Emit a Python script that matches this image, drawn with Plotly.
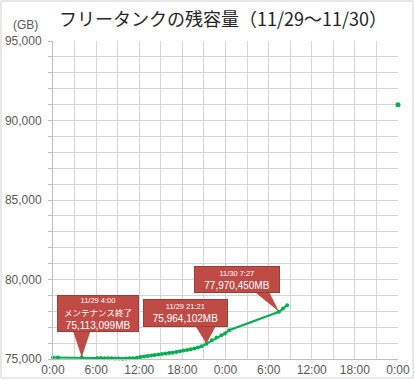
import plotly.graph_objects as go
from datetime import datetime

# ---- data ----
TIMES = [
    "11/29 0:00", "11/29 0:40", "11/29 4:00", "11/29 6:10", "11/29 6:40",
    "11/29 7:10", "11/29 7:40", "11/29 8:10", "11/29 8:40", "11/29 9:10",
    "11/29 9:40", "11/29 10:10", "11/29 10:40", "11/29 11:10", "11/29 11:40",
    "11/29 12:10", "11/29 12:40", "11/29 13:10", "11/29 13:40", "11/29 14:10",
    "11/29 14:40", "11/29 15:10", "11/29 15:40", "11/29 16:10", "11/29 16:40",
    "11/29 17:10", "11/29 17:40", "11/29 18:10", "11/29 18:40", "11/29 19:10",
    "11/29 19:40", "11/29 20:10", "11/29 20:40", "11/29 21:21", "11/29 22:05",
    "11/29 22:45", "11/29 23:25", "11/29 23:55", "11/30 0:30", "11/30 7:27",
    "11/30 8:00", "11/30 8:35",
]
CAPACITY_GB = [
    75100, 75100, 75113, 75070, 75060,
    75050, 75050, 75040, 75030, 75030,
    75020, 75030, 75040, 75050, 75080,
    75120, 75160, 75190, 75220, 75250,
    75280, 75310, 75340, 75370, 75400,
    75440, 75480, 75530, 75570, 75610,
    75660, 75720, 75800, 75964, 76180,
    76350, 76490, 76600, 76810, 77970,
    78170, 78380,
]
EXTRA_TIMES = ["12/1 0:00"]
EXTRA_GB = [90990]

TICK_HOURS = [0, 6, 12, 18, 24, 30, 36, 42, 48]
TICK_LABELS = ["0:00", "6:00", "12:00", "18:00", "0:00", "6:00", "12:00", "18:00", "0:00"]
Y_TICKS = [75000, 80000, 85000, 90000, 95000]

CALLOUT_TIMES = ["11/29 4:00", "11/29 21:21", "11/30 7:27"]
CALLOUT_HEADS = ["11/29 4:00", "11/29 21:21", "11/30 7:27"]
CALLOUT_NOTES = ["メンテナンス終了", "", ""]
CALLOUT_VALUES = ["75,113,099MB", "75,964,102MB", "77,970,450MB"]

TITLE = "フリータンクの残容量（11/29～11/30）"

# ---- helpers ----
BASE = datetime(2000, 11, 29)


def to_hours(s):
    md, hm = s.split(" ")
    m, d = md.split("/")
    h, mi = hm.split(":")
    dt = datetime(2000, int(m), int(d), int(h), int(mi))
    return (dt - BASE).total_seconds() / 3600.0


X = [to_hours(t) for t in TIMES]
X_EXTRA = [to_hours(t) for t in EXTRA_TIMES]

# ---- geometry ----
W, H = 415, 380
ML, MR, MT, MB = 53, 17, 41, 21
PW, PH = W - ML - MR, H - MT - MB
XR = [0, 48]
YR = [75000, 95000]
PX_PER_H = PW / (XR[1] - XR[0])
PX_PER_U = PH / (YR[1] - YR[0])

GREEN = "#00b050"
GRID = "#d4d4d4"
RED = "#bf4b47"
RED_DARK = "#9e3a37"
FONT = "Liberation Sans, Arial, Noto Sans CJK JP, sans-serif"

fig = go.Figure()
fig.add_trace(go.Scatter(
    x=X, y=CAPACITY_GB, mode="lines+markers",
    line=dict(color=GREEN, width=2),
    marker=dict(color=GREEN, size=4),
    hoverinfo="skip", showlegend=False, cliponaxis=False,
))
fig.add_trace(go.Scatter(
    x=X_EXTRA, y=EXTRA_GB, mode="markers",
    marker=dict(color=GREEN, size=5),
    hoverinfo="skip", showlegend=False, cliponaxis=False,
))

CALLOUT_STYLE = [
    dict(ax=16, ay=-44, w=80, h=35, bl=-10, br=10, bdy=-28),
    dict(ax=-21, ay=-31, w=83, h=26, bl=-13, br=11, bdy=-19),
    dict(ax=-42, ay=-32, w=84, h=25, bl=-27, br=-11, bdy=-20),
]

shapes = []
annotations = []
for t, head, note, val, st in zip(CALLOUT_TIMES, CALLOUT_HEADS, CALLOUT_NOTES,
                                  CALLOUT_VALUES, CALLOUT_STYLE):
    i = TIMES.index(t)
    xh, v = X[i], CAPACITY_GB[i]
    x0, y0 = xh, v
    x1 = xh + st["bl"] / PX_PER_H
    x2 = xh + st["br"] / PX_PER_H
    yb = v - (st["bdy"] - 2) / PX_PER_U
    shapes.append(dict(
        type="path", xref="x", yref="y",
        path=f"M {x0},{y0} L {x1},{yb} L {x2},{yb} Z",
        fillcolor=RED, line=dict(width=0), layer="above",
    ))
    parts = ["<span style='font-size:7.5px'>" + head + "</span>"]
    if note:
        parts.append("<span style='font-size:8.5px'>" + note + "</span>")
    parts.append(val)
    annotations.append(dict(
        x=xh, y=v, xref="x", yref="y", text="<br>".join(parts),
        showarrow=True, arrowcolor="rgba(0,0,0,0)", arrowwidth=0.1,
        ax=st["ax"], ay=st["ay"],
        width=st["w"], height=st["h"],
        bgcolor=RED, bordercolor=RED_DARK, borderwidth=1, borderpad=0,
        font=dict(family=FONT, size=10, color="white"),
        align="center", valign="middle",
    ))

annotations.append(dict(
    x=(26 - ML) / PW, y=(H - MB - 25) / PH, xref="paper", yref="paper",
    text="(GB)", showarrow=False, xanchor="center", yanchor="middle",
    font=dict(family=FONT, size=12, color="#595959"),
))

shapes.append(dict(
    type="rect", xref="paper", yref="paper",
    x0=(1 - ML) / PW, x1=(W - 2 - ML) / PW,
    y0=(H - MB - (H - 2)) / PH, y1=(H - MB - 1) / PH,
    line=dict(color="#d0d0d0", width=1), fillcolor="rgba(0,0,0,0)", layer="below",
))

fig.update_layout(
    width=W, height=H,
    margin=dict(l=ML, r=MR, t=MT, b=MB, pad=0, autoexpand=False),
    paper_bgcolor="white", plot_bgcolor="white",
    title=dict(
        text=TITLE, x=223 / W, y=1 - 20 / H, xanchor="center", yanchor="middle",
        font=dict(family="Noto Sans CJK JP, sans-serif", size=18, color="#262626"),
    ),
    xaxis=dict(
        range=XR, tickvals=TICK_HOURS, ticktext=TICK_LABELS,
        showgrid=True, gridcolor=GRID, gridwidth=1,
        minor=dict(dtick=3, tick0=0, showgrid=True, gridcolor=GRID, gridwidth=1),
        zeroline=False, showline=True, linecolor="#bfbfbf",
        tickfont=dict(family=FONT, size=12, color="#595959"),
        ticks="", fixedrange=True, automargin=False,
    ),
    yaxis=dict(
        range=YR, tickvals=Y_TICKS, tickformat=",d",
        showgrid=True, gridcolor=GRID, gridwidth=1,
        minor=dict(dtick=1000, tick0=75000, showgrid=True, gridcolor=GRID, gridwidth=1,
                   ticks="outside", ticklen=4, tickcolor="#bfbfbf"),
        ticks="outside", ticklen=4, tickcolor="#bfbfbf",
        ticklabelstandoff=4,
        zeroline=False, showline=True, linecolor="#bfbfbf",
        tickfont=dict(family=FONT, size=12, color="#595959"),
        fixedrange=True, automargin=False,
    ),
    shapes=shapes, annotations=annotations,
)

fig.write_html(
    "out.html",
    config={"displayModeBar": False},
    post_script="document.body.style.margin='0';document.body.style.padding='0';",
)
